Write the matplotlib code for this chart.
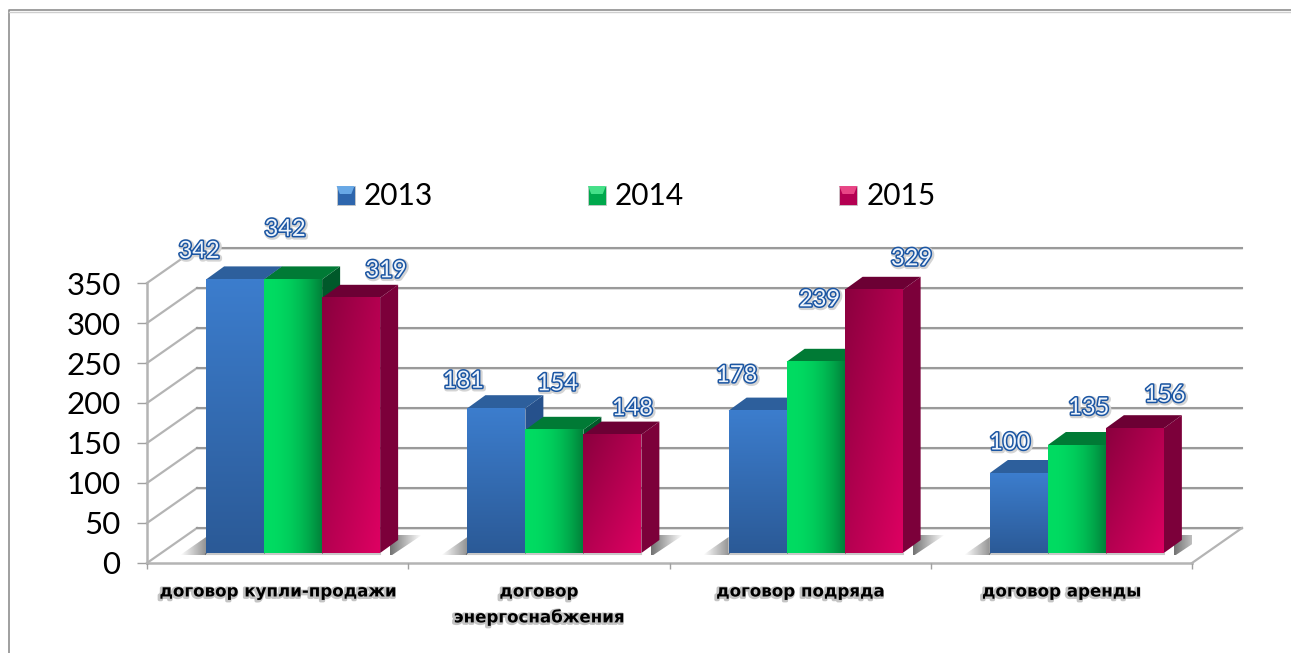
import matplotlib
matplotlib.use('Agg')
import matplotlib.pyplot as plt
import matplotlib.patheffects as pe
import numpy as np
from matplotlib.colors import to_rgb
from matplotlib.legend_handler import HandlerBase
from matplotlib.lines import Line2D
from matplotlib.patches import Patch, Polygon, Rectangle
from matplotlib.transforms import IdentityTransform

# values
categories = ['договор купли-продажи', 'договор\nэнергоснабжения', 'договор подряда', 'договор аренды']
years = ['2013', '2014', '2015']
values_2013 = [342, 181, 178, 100]
values_2014 = [342, 154, 239, 135]
values_2015 = [319, 148, 329, 156]
y_ticks = [0, 50, 100, 150, 200, 250, 300, 350]

# label offsets from the bar's top centre, pixels
offsets_2013 = [(-36, 28), (-33, 27), (-21, 35), (-9, 30)]
offsets_2014 = [(-8, 50), (3, 46), (4, 62), (12, 37)]
offsets_2015 = [(35, 27), (20, 26), (38, 31), (30, 33)]

W, H = 1291, 653
BAR_W = 0.222
WALL = (50, 35)    # depth of the floor
BAR_POS = (15.5, 10)  # bars stand this far back from the front edge
BAR_D = (18, 13)   # depth of one bar

fig = plt.figure(figsize=(W / 100, H / 100), dpi=100)
ax = fig.add_axes([147 / W, (H - 563) / H, 1045 / W, 280 / H])
ax.set_xlim(0, 4)
ax.set_ylim(0, 350)
ax.set_autoscale_on(False)
ax.patch.set_alpha(0)

ident = IdentityTransform()
z = [3]


def px(x, v, dx=0, dy=0):
    # data position to display pixels, then pushed back in depth
    p = ax.transData.transform((x, v))
    return p[0] + dx, p[1] + dy


def mix(c0, c1, t):
    return (1 - t) * np.array(to_rgb(c0)) + t * np.array(to_rgb(c1))


def blue_face():
    t = np.linspace(0, 1, 64)[:, None, None]
    return mix('#3c7dcd', '#2b5a97', t)


def green_face():
    t = np.linspace(0, 1, 64)[None, :, None] ** 2.2
    return mix('#00dc62', '#00823a', t)


def red_face():
    xx, yy = np.meshgrid(np.linspace(0, 1, 64), np.linspace(0, 1, 64))
    return mix('#8a003e', '#de0062', ((xx + yy) / 2)[..., None])


def image_box(arr, left, right, bottom, top, clip=None):
    im = ax.imshow(arr, extent=(left, right, bottom, top), transform=ident, aspect='auto',
                   interpolation='bilinear', zorder=z[0], clip_on=True)
    if clip is not None:
        im.set_clip_path(Polygon(clip, closed=True, transform=ident))
    else:
        im.set_clip_on(False)
    z[0] += 1
    return im


def poly(pts, color):
    p = Polygon(pts, closed=True, facecolor=color, edgecolor='none', transform=ident,
                clip_on=False, zorder=z[0])
    ax.add_patch(p)
    z[0] += 1


def seg(p0, p1, color='#a3a3a3', lw=1.6):
    ax.add_line(Line2D([p0[0], p1[0]], [p0[1], p1[1]], color=color, lw=lw, transform=ident,
                       clip_on=False, zorder=2))


# back wall and floor
for v in y_ticks:
    left = px(0, v)
    back_l = px(0, v, *WALL)
    back_r = px(4, v, *WALL)
    seg(left, back_l, '#b4b4b4', 1.6)
    seg((back_l[0], back_l[1] - 1), (back_r[0], back_r[1] - 1), '#dddddd', 1.2)
    seg(back_l, back_r, '#9a9a9a', 1.5)
seg(px(4, 0), px(4, 0, *WALL), '#b4b4b4', 1.6)

series = [values_2013, values_2014, values_2015]
faces = [blue_face, green_face, red_face]
tops = ['#2d5f9c', '#007a35', '#6c0034']
sides = ['#26518c', '#00592a', '#7c003a']
offsets = [offsets_2013, offsets_2014, offsets_2015]

for i in range(len(categories)):
    # soft shadow on the floor
    g_l = i + 0.5 - 1.5 * BAR_W
    g_r = i + 0.5 + 1.5 * BAR_W
    lx, ly = px(g_l, 0, *BAR_POS)
    rx, ry = px(g_r, 0, *BAR_POS)
    fade = np.zeros((1, 32, 4))
    fade[..., 3] = np.linspace(0.55, 0, 32)
    image_box(fade, rx + 10, rx + 42, ry - 2, ry + 18,
              clip=[(rx, ry - 2), (rx + 12, ry - 2), (rx + 42, ry + 18), (rx + 16, ry + 18), (rx, ry)])
    left_fade = np.zeros((1, 32, 4))
    left_fade[..., 3] = np.linspace(0, 0.42, 32)
    image_box(left_fade, lx - 26, lx, ly - 2, ly + 16,
              clip=[(lx, ly - 2), (lx - 26, ly - 2), (lx, ly + 16)])
    seg((lx, ly - 1), (rx, ry - 1), '#c8c8c8', 1.5)

    for j, vals in enumerate(series):
        v = vals[i]
        x0 = i + 0.5 + (j - 1.5) * BAR_W
        x1 = x0 + BAR_W
        bl = px(x0, 0, *BAR_POS)
        br = px(x1, 0, *BAR_POS)
        tl = px(x0, v, *BAR_POS)
        tr = px(x1, v, *BAR_POS)
        d = BAR_D
        poly([br, tr, (tr[0] + d[0], tr[1] + d[1]), (br[0] + d[0], br[1] + d[1])], sides[j])
        poly([tl, tr, (tr[0] + d[0], tr[1] + d[1]), (tl[0] + d[0], tl[1] + d[1])], tops[j])
        image_box(faces[j](), bl[0], br[0], bl[1], tl[1])
        # thin dark seam between bars
        seg(bl, tl, '#1d3d66' if j == 0 else '#2a5c3c' if j == 1 else '#5c1a38', 0.4)

for i in range(len(categories)):
    for j, vals in enumerate(series):
        x = i + 0.5 + (j - 1) * BAR_W
        v = vals[i]
        dx, dy = offsets[j][i]
        ax.annotate(str(v), (x, v), xytext=(dx + BAR_POS[0], dy + BAR_POS[1]),
                    textcoords='offset pixels', ha='center', va='center', fontsize=17,
                    family='Lato', color='#eef4fb', zorder=200, annotation_clip=False,
                    path_effects=[pe.Stroke(linewidth=3.8, foreground='#d4d4d4', offset=(0.8, -0.8)),
                                  pe.Stroke(linewidth=2.2, foreground='#1a55a3'),
                                  pe.Normal()])

# axes
for s in ['top', 'right']:
    ax.spines[s].set_visible(False)
for s in ['left', 'bottom']:
    ax.spines[s].set_color('#b4b4b4')
    ax.spines[s].set_linewidth(1.8)
    ax.spines[s].set_zorder(1)
ax.set_yticks(y_ticks)
ax.set_yticklabels([str(t) for t in y_ticks], fontsize=22.5, family='Lato', color='black')
ax.tick_params(axis='y', length=7, width=1, color='#a0a0a0', pad=12)
ax.set_xticks(range(5))
ax.set_xticklabels([])
ax.tick_params(axis='x', which='major', length=4.5, width=1, color='#a0a0a0')
ax.set_xticks(np.arange(4) + 0.5, minor=True)
ax.set_xticklabels(categories, minor=True, fontsize=12, family='DejaVu Sans', fontweight='bold',
                   linespacing=1.55, va='top', ha='center',
                   path_effects=[pe.Stroke(linewidth=2.4, foreground='#c4c4c4', offset=(-0.8, -0.6)), pe.Normal()])
ax.tick_params(axis='x', which='minor', length=0, pad=14)


# legend with bevelled swatches
class Swatch(HandlerBase):
    def create_artists(self, legend, orig, xd, yd, width, height, fontsize, trans):
        body = Rectangle((0, 0), width, height, facecolor=orig.get_facecolor(), edgecolor='#c9c9c9',
                         lw=0.6, transform=trans)
        roof = Polygon([(0, height), (width, height), (width * 0.82, height * 0.58), (width * 0.18, height * 0.58)],
                       closed=True, facecolor=orig.get_edgecolor(), edgecolor='none', transform=trans)
        return [body, roof]


handles = [Patch(facecolor='#2e66ad', edgecolor='#68a8e6', label=years[0]),
           Patch(facecolor='#00a84c', edgecolor='#45e088', label=years[1]),
           Patch(facecolor='#b40052', edgecolor='#e84585', label=years[2])]
leg = fig.legend(handles=handles, labels=years, handler_map={Patch: Swatch()}, ncols=3, frameon=False,
                 loc='center', bbox_to_anchor=(636 / W, (H - 196) / H), prop={'family': 'Lato', 'size': 21.5},
                 handlelength=0.6, handleheight=0.6, handletextpad=0.3, columnspacing=5.2)

# outer frame of the picture
fig.add_artist(Line2D([9 / W, 9 / W, 1], [0, (H - 10) / H, (H - 10) / H], color='#8f8f8f', lw=1.2))
fig.add_artist(Line2D([9 / W, 1], [(H - 11.5) / H, (H - 11.5) / H], color='#cfcfcf', lw=1.0))

fig.savefig('out.png', dpi=100)
